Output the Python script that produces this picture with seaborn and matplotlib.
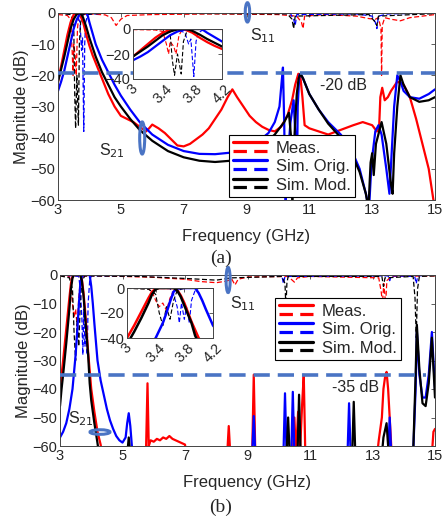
import matplotlib
matplotlib.use("Agg")
import matplotlib.pyplot as plt
import seaborn as sns
from matplotlib.lines import Line2D
from matplotlib.patches import Ellipse
from matplotlib.legend_handler import HandlerBase

sns.set_theme(style="white")
plt.rcParams['font.family'] = ['Liberation Sans', 'DejaVu Sans']

# ---------------- data: panel (a) ----------------
A_S21_MEAS = [(3.0,-22),(3.1,-17),(3.2,-12),(3.3,-7),(3.4,-3),(3.5,-0.5),(3.6,0),(3.7,-0.5),(3.8,-3),
              (3.9,-7),(4.0,-10.5),(4.1,-13.5),(4.2,-16),(4.4,-21),(4.6,-26),(4.8,-30),(5.0,-33),(5.2,-34),(5.4,-35),
              (5.6,-36.5),(5.8,-38),(5.9,-37),(6.0,-35.8),(6.2,-37),(6.4,-38.5),(6.6,-40.5),(6.8,-42.5),
              (7.0,-42.8),(7.2,-42),(7.4,-40.5),(7.6,-39),(7.8,-37),(8.0,-34),(8.2,-31),(8.4,-27),
              (8.55,-24.5),(8.7,-27),(8.9,-30),(9.1,-33),(9.3,-35),(9.5,-36.5),(9.7,-37.5),(9.9,-38),
              (10.1,-36.5),(10.3,-33),(10.45,-28),(10.55,-23),(10.65,-19.5),(10.72,-21),(10.78,-27),
              (10.85,-36),(11.0,-37),(11.3,-38),(11.6,-39),(12.0,-37.5),(12.4,-36),(12.7,-35),(13.0,-36),
              (13.15,-38),(13.22,-37),(13.26,-27),(13.32,-24),(13.4,-28),(13.5,-27),(13.6,-25),(13.8,-22),
              (14.0,-23),(14.2,-27),(14.4,-34),(14.6,-42),(14.8,-50),(14.95,-60),(15.0,-63)]
A_S21_ORIG = [(3.0,-25),(3.1,-22),(3.2,-18.5),(3.3,-14),(3.4,-9.5),(3.5,-5),(3.6,-2),(3.7,-0.3),(3.8,0),
              (3.9,0),(3.95,-1),(4.0,-3),(4.1,-6.5),(4.2,-10),(4.4,-15),(4.6,-19),(4.8,-23),(5.0,-26.5),
              (5.3,-31),(5.6,-35),(6.0,-39),(6.5,-42.3),(7.0,-44.3),(7.5,-45.2),(8.0,-45.3),(8.5,-44.8),
              (9.0,-43.2),(9.4,-41),(9.7,-38.5),(9.9,-35),(10.05,-30),(10.12,-22),(10.16,-17.5),(10.2,-35),
              (10.24,-63),(10.3,-48),(10.4,-35),(10.5,-28),(10.56,-40),(10.6,-58),(10.63,-30),(10.68,-20),
              (10.72,-19.5),(10.8,-21),(11.0,-26),(11.3,-31),(11.6,-35),(12.0,-39),(12.3,-43),(12.6,-50),
              (12.8,-58),(12.9,-63),(12.98,-48),(13.1,-38),(13.2,-36),(13.3,-39),(13.45,-50),(13.55,-58),
              (13.62,-45),(13.7,-30),(13.8,-20),(13.9,-22),(14.0,-25),(14.2,-27),(14.5,-27.5),(14.8,-26),
              (15.0,-24.5)]
A_S21_MOD = [(3.0,-22),(3.1,-18),(3.2,-14),(3.3,-9.5),(3.4,-5),(3.5,-2),(3.6,-0.3),(3.7,0),(3.75,-0.5),
             (3.8,-1.5),(3.9,-4.5),(4.0,-8),(4.2,-14),(4.4,-19),(4.6,-23),(4.8,-27),(5.0,-30),(5.3,-34),
             (5.6,-37.5),(6.0,-41),(6.5,-44.3),(7.0,-46.3),(7.5,-47.4),(8.0,-47.8),(8.5,-47.4),(9.0,-45.5),
             (9.5,-42.5),(9.9,-39),(10.2,-35),(10.35,-32),(10.42,-40),(10.46,-63),(10.5,-45),(10.56,-33),
             (10.6,-26),(10.66,-21),(10.72,-19.5),(10.8,-21),(11.0,-26),(11.3,-31),(11.6,-35.5),(12.0,-40),
             (12.3,-44),(12.6,-51),(12.8,-58),(12.88,-63),(12.95,-48),(13.0,-45),(13.05,-52),(13.12,-42),
             (13.3,-35),(13.45,-42),(13.6,-55),(13.65,-58),(13.7,-45),(13.8,-30),(13.9,-20),(14.0,-23),
             (14.2,-27),(14.5,-28.5),(14.8,-28),(15.0,-27)]
A_S11_MEAS = [(3.0,-0.5),(3.3,-0.8),(3.4,-2),(3.45,-12),(3.48,-20),(3.5,-10),(3.55,-14),(3.58,-20),
              (3.62,-5),(3.66,-1),(3.8,-0.5),(4.0,-0.3),(4.5,-0.6),(4.7,-1.5),(4.85,-4),(5.0,-2),(5.2,-0.8),
              (6.0,-0.5),(8.0,-0.3),(10.0,-0.5),(10.6,-1),(10.75,-3),(10.8,-5),(10.85,-1),(11.5,-0.5),
              (12.5,-1),(12.9,-1.8),(13.1,-2),(13.2,-1.5),(13.28,-5),(13.3,-20),(13.32,-4),(13.4,-1.5),
              (13.6,-2),(13.9,-2.5),(14.2,-1.5),(14.6,-1),(15.0,-0.5)]
A_S11_ORIG = [(3.0,0),(3.6,-0.5),(3.7,-3),(3.75,-12),(3.78,-8),(3.82,-38),(3.85,-10),(3.88,-3),(3.95,-0.5),
              (4.5,0),(9.0,0),(10.4,-0.2),(10.5,-2),(10.55,-4),(10.6,-0.5),(12.5,-0.3),(13.0,-1),(13.1,-3),
              (13.15,-5),(13.2,-1),(13.5,-0.3),(15.0,0)]
A_S11_MOD = [(3.0,0),(3.4,-0.5),(3.5,-3),(3.53,-25),(3.56,-37),(3.6,-20),(3.65,-36),(3.68,-10),(3.72,-3),
             (3.8,-0.5),(4.5,0),(10.3,-0.3),(10.45,-2),(10.5,-5),(10.55,-1),(12.9,-0.5),(13.1,-3),
             (13.15,-4),(13.2,-1),(15.0,-0.2)]

# ---------------- data: panel (b) ----------------
B_S21_MEAS = [(3.0,-40),(3.1,-30),(3.2,-19),(3.3,-8),(3.35,-3),(3.4,-0.5),(3.45,0),(3.65,0),(3.7,-1.5),
              (3.75,-6),(3.8,-12),(3.9,-27),(4.0,-40),(4.1,-48),(4.2,-55),(4.3,-59.5),(4.35,-63),
              (5.75,-63),(5.8,-38),(5.84,-60),(5.9,-58),(6.0,-58.5),(6.1,-57.5),(6.2,-58),(6.3,-57),
              (6.4,-57.5),(6.5,-56.5),(6.6,-57.5),(6.7,-58),(6.8,-58.5),(6.9,-59),(7.0,-59.5),(7.05,-63),
              (8.35,-63),(8.4,-53),(8.45,-63),(9.15,-63),(9.2,-35),(9.25,-63),(10.45,-63),(10.5,-50),
              (10.55,-63),(10.62,-48),(10.68,-62),(10.75,-45),(10.8,-35),(10.85,-63),(13.15,-63),
              (13.2,-58),(13.3,-50),(13.35,-40),(13.4,-36),(13.45,-34),(13.5,-40),(13.55,-50),(13.6,-60),
              (13.65,-63),(14.9,-63),(14.95,-55),(15.0,-54)]
B_S21_ORIG = [(3.0,-57),(3.1,-55),(3.2,-52),(3.3,-47),(3.4,-40),(3.5,-28),(3.55,-20),(3.6,-11),(3.65,-3),
              (3.7,-0.5),(3.75,0),(3.95,0),(4.0,-4),(4.05,-10),(4.1,-17),(4.2,-30),(4.3,-37),(4.4,-42),
              (4.5,-47),(4.6,-51),(4.7,-54),(4.8,-56.5),(4.9,-58),(5.0,-58.8),(5.1,-57),(5.15,-52),
              (5.2,-48.5),(5.25,-53),(5.3,-60),(5.35,-63),(9.15,-63),(9.2,-49.5),(9.25,-63),(10.15,-63),
              (10.2,-41.5),(10.25,-63),(10.4,-63),(10.45,-41),(10.5,-63),(12.2,-63),(12.25,-45),(12.3,-63),
              (13.5,-63),(13.55,-50),(13.6,-63),(14.3,-63),(14.38,-40),(14.42,-20),(14.5,-35),(14.6,-43),
              (14.7,-43),(14.8,-35),(14.9,-20),(15.0,-40)]
B_S21_MOD = [(3.0,-46),(3.05,-40),(3.1,-35),(3.2,-24),(3.3,-12),(3.35,-5),(3.4,-1),(3.45,0),(3.65,0),
             (3.7,-2),(3.75,-7),(3.8,-14),(3.9,-28),(3.95,-38),(4.0,-44),(4.1,-52),(4.2,-59),(4.25,-63),
             (5.15,-63),(5.2,-57),(5.25,-63),(10.25,-63),(10.3,-50),(10.35,-63),(10.6,-63),(10.65,-42),
             (10.7,-63),(12.35,-63),(12.4,-44.5),(12.45,-63),(13.3,-63),(13.35,-57),(13.45,-52),(13.5,-60),
             (13.55,-63),(14.3,-63),(14.38,-35),(14.42,-17.5),(14.5,-33),(14.6,-45),(14.7,-46),(14.8,-38),
             (14.9,-22),(15.0,-43)]
B_S11_MEAS = [(3.0,-0.3),(3.3,-0.5),(3.35,-3),(3.4,-10),(3.45,-15),(3.5,-12),(3.55,-18),(3.6,-8),(3.65,-2),
              (3.7,-0.5),(4.0,-0.3),(5.0,-0.5),(6.0,-0.8),(7.0,-1.5),(7.5,-2.3),(8.0,-2.7),(8.3,-2.2),
              (8.5,-1.5),(8.6,-3.5),(8.7,-1.5),(9.0,-0.7),(10.3,-0.5),(10.5,-2.5),(10.6,-1),(11.0,-0.5),
              (13.2,-1),(13.28,-6),(13.32,-10),(13.36,-3),(13.42,-10),(13.46,-2),(13.6,-0.5),(15.0,-0.3)]
B_S11_ORIG = [(3.0,0),(3.6,-0.5),(3.65,-5),(3.7,-15),(3.73,-28),(3.76,-12),(3.8,-25),(3.83,-15),(3.87,-28),
              (3.9,-10),(3.95,-2),(4.0,-0.3),(9.0,0),(10.1,-0.3),(10.15,-3),(10.2,-0.5),(13.5,-0.3),
              (13.55,-2),(13.6,-0.3),(14.35,-0.5),(14.4,-3),(14.45,-0.3),(15.0,0)]
B_S11_MOD = [(3.0,-0.3),(3.3,-1),(3.4,-5),(3.45,-20),(3.5,-30),(3.55,-15),(3.6,-25),(3.65,-10),(3.7,-2),
             (3.8,-0.3),(5.5,-0.5),(7.0,-1.2),(8.0,-1.8),(8.5,-1),(10.1,-0.5),(10.2,-3),(10.23,-12),
             (10.26,-3),(10.3,-0.5),(13.3,-0.5),(13.35,-4),(13.4,-1),(14.3,-0.5),(14.36,-8),(14.4,-22),
             (14.44,-5),(14.5,-0.5),(15.0,-0.3)]

X_TICKS = [3, 5, 7, 9, 11, 13, 15]
Y_TICKS = [0, -10, -20, -30, -40, -50, -60]
INSET_X_TICKS = [3, 3.4, 3.8, 4.2]
INSET_Y_TICKS = [0, -20, -40]
LEGEND_LABELS = ["Meas.", "Sim. Orig.", "Sim. Mod."]
COLORS = ["#FF0000", "#0000FF", "#000000"]
MARK_BLUE = "#4A74C4"

W, H = 442, 524
fig = plt.figure(figsize=(W / 100, H / 100), dpi=100)
TICK_FS = 10.5
LABEL_FS = 12
NOTE_FS = 11.5


def px_axes(l, t, r, b):
    return fig.add_axes([l / W, 1 - b / H, (r - l) / W, (b - t) / H])


def draw(ax, s21, s11, lw_s=1.6, lw_d=0.9):
    for data, c in zip(s11, COLORS):
        f, m = zip(*data)
        sns.lineplot(x=list(f), y=list(m), ax=ax, color=c, lw=lw_d, linestyle=(0, (4, 2)),
                     sort=False, estimator=None, legend=False)
    for data, c in zip(s21, COLORS):
        f, m = zip(*data)
        sns.lineplot(x=list(f), y=list(m), ax=ax, color=c, lw=lw_s, sort=False,
                     estimator=None, legend=False)


def style_axes(ax, xt, yt, fs=TICK_FS):
    for s in ax.spines.values():
        s.set_color("#444444")
        s.set_linewidth(0.7)
    ax.set_xticks(xt)
    ax.set_yticks(yt)
    ax.tick_params(direction="in", length=3, width=0.6, color="#444444", labelsize=fs,
                   top=True, right=True, pad=2)
    ax.set_xlabel("")
    ax.set_ylabel("")


class StackedHandler(HandlerBase):
    def create_artists(self, legend, orig_handle, xdescent, ydescent, width, height, fontsize, trans):
        c = orig_handle.get_color()
        x0, x1 = -xdescent, width - xdescent
        ys = -ydescent + 0.82 * height
        yd = -ydescent + 0.30 * height
        l1 = Line2D([x0, x1], [ys, ys], color=c, lw=2.3, transform=trans)
        l2 = Line2D([x0, x1], [yd, yd], color=c, lw=2.3, linestyle=(0, (4.2, 2.3)), transform=trans)
        return [l1, l2]


def add_legend(ax, anchor):
    handles = [Line2D([], [], color=c) for c in COLORS]
    leg = ax.legend(handles, LEGEND_LABELS, handler_map={Line2D: StackedHandler()},
                    loc="upper left", bbox_to_anchor=anchor, borderaxespad=0, fontsize=12,
                    handlelength=2.0, handleheight=1.15, labelspacing=0.08, borderpad=0.25,
                    handletextpad=0.55, fancybox=False, framealpha=1, edgecolor="black")
    leg.get_frame().set_linewidth(0.8)
    leg.set_zorder(20)


# ================= panel (a) =================
axA = px_axes(58, 13, 435, 200)
draw(axA, [A_S21_MEAS, A_S21_ORIG, A_S21_MOD], [A_S11_MEAS, A_S11_ORIG, A_S11_MOD])
axA.set_xlim(3, 15)
axA.set_ylim(-60, 0)
style_axes(axA, X_TICKS, Y_TICKS)
axA.set_xlabel("Frequency (GHz)", fontsize=LABEL_FS, labelpad=9)
axA.set_ylabel("Magnitude (dB)", fontsize=LABEL_FS, labelpad=1)
axA.axhline(-19.3, color=MARK_BLUE, lw=2.6, linestyle=(0, (4.5, 2.2)), zorder=5, clip_on=False)
axA.text(11.35, -23.3, "-20 dB", fontsize=NOTE_FS, ha="left", va="center")
axA.add_patch(Ellipse((9.03, 0.2), 0.14, 6.2, facecolor="none", edgecolor=MARK_BLUE, lw=2.2,
                      clip_on=False, zorder=6))
axA.text(9.1, -7.3, "S$_{11}$", fontsize=NOTE_FS, ha="left", va="center")
axA.add_patch(Ellipse((5.68, -40.1), 0.16, 10.3, facecolor="none", edgecolor=MARK_BLUE, lw=2.2,
                      zorder=6))
axA.text(4.32, -44.3, "S$_{21}$", fontsize=NOTE_FS, ha="left", va="center")
add_legend(axA, ((229 - 58) / 377, 1 - (135 - 13) / 187))

insA = px_axes(133, 29, 222, 79)
insA.set_facecolor("white")
draw(insA, [A_S21_MEAS, A_S21_ORIG, A_S21_MOD], [A_S11_MEAS, A_S11_ORIG, A_S11_MOD], lw_s=1.6, lw_d=0.8)
insA.set_xlim(3, 4.2)
insA.set_ylim(-40, 0)
style_axes(insA, INSET_X_TICKS, INSET_Y_TICKS)
insA.set_xticklabels(["3", "3.4", "3.8", "4.2"], rotation=45, ha="center", va="top")
insA.set_zorder(15)

# ================= panel (b) =================
axB = px_axes(60, 275, 435, 446)
draw(axB, [B_S21_MEAS, B_S21_ORIG, B_S21_MOD], [B_S11_MEAS, B_S11_ORIG, B_S11_MOD])
axB.set_xlim(3, 15)
axB.set_ylim(-60, 0)
style_axes(axB, X_TICKS, Y_TICKS)
axB.set_xlabel("Frequency (GHz)", fontsize=LABEL_FS, labelpad=9)
axB.set_ylabel("Magnitude (dB)", fontsize=LABEL_FS, labelpad=1)
axB.plot([3, 14.7], [-35.1, -35.1], color=MARK_BLUE, lw=2.6, linestyle=(0, (4.5, 2.2)), zorder=5,
         clip_on=False)
axB.text(11.7, -39.3, "-35 dB", fontsize=NOTE_FS, ha="left", va="center")
axB.add_patch(Ellipse((8.38, -1.75), 0.13, 8.8, facecolor="none", edgecolor=MARK_BLUE, lw=2.2,
                      clip_on=False, zorder=6))
axB.text(8.45, -10.2, "S$_{11}$", fontsize=NOTE_FS, ha="left", va="center")
axB.add_patch(Ellipse((4.28, -55.1), 0.64, 1.6, facecolor="none", edgecolor=MARK_BLUE, lw=2.2,
                      zorder=6))
axB.text(3.25, -50.5, "S$_{21}$", fontsize=NOTE_FS, ha="left", va="center")
add_legend(axB, ((275 - 60) / 375, 1 - (298 - 275) / 171))

insB = px_axes(127, 288, 213, 338)
insB.set_facecolor("white")
draw(insB, [B_S21_MEAS, B_S21_ORIG, B_S21_MOD], [B_S11_MEAS, B_S11_ORIG, B_S11_MOD], lw_s=1.8, lw_d=0.8)
insB.set_xlim(3, 4.2)
insB.set_ylim(-40, 0)
style_axes(insB, INSET_X_TICKS, INSET_Y_TICKS)
insB.set_xticklabels(["3", "3.4", "3.8", "4.2"], rotation=45, ha="center", va="top")
insB.set_zorder(15)

fig.text(0.5, 1 - 258 / H, "(a)", ha="center", va="center", fontsize=14,
         family=["Liberation Serif", "DejaVu Serif"])
fig.text(0.5, 1 - 507 / H, "(b)", ha="center", va="center", fontsize=14,
         family=["Liberation Serif", "DejaVu Serif"])

fig.savefig("out.png", dpi=100, facecolor="white")
